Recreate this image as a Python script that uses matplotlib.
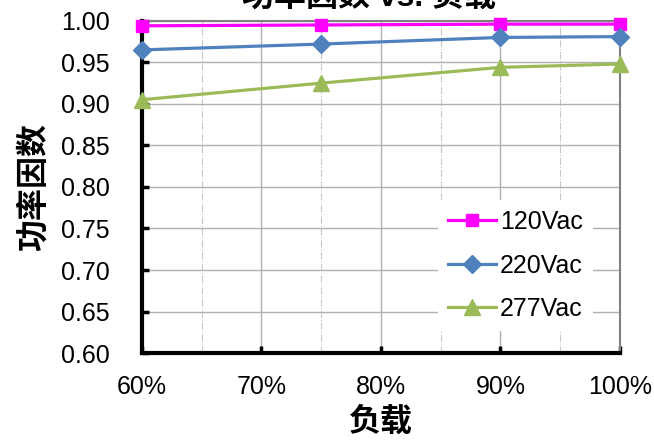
import matplotlib.pyplot as plt
from matplotlib.ticker import MultipleLocator, FuncFormatter

plt.rcParams['font.family'] = ['Liberation Sans', 'Noto Sans CJK SC', 'DejaVu Sans']

load = [60, 75, 90, 100]
pf_120 = [0.994, 0.995, 0.996, 0.996]
pf_220 = [0.965, 0.972, 0.980, 0.981]
pf_277 = [0.905, 0.925, 0.944, 0.948]

fig = plt.figure(figsize=(6.54, 4.43), dpi=100)
ax = fig.add_axes([0.217, 0.203, 0.731, 0.750])

ax.plot(load, pf_120, color='#ff00ff', marker='s', markersize=8, lw=2.3, label='120Vac', clip_on=False, zorder=5)
ax.plot(load, pf_220, color='#4f81bd', marker='D', markersize=9, lw=2.3, label='220Vac', clip_on=False, zorder=5)
ax.plot(load, pf_277, color='#9bbb59', marker='^', markersize=12, lw=2.3, label='277Vac', clip_on=False, zorder=5)

ax.set_xlim(60, 100)
ax.set_ylim(0.60, 1.00)
ax.xaxis.set_major_locator(MultipleLocator(10))
ax.xaxis.set_minor_locator(MultipleLocator(5))
ax.yaxis.set_major_locator(MultipleLocator(0.05))
ax.xaxis.set_major_formatter(FuncFormatter(lambda v, p: '{:.0f}%'.format(v)))
ax.yaxis.set_major_formatter(FuncFormatter(lambda v, p: '{:.2f}'.format(v)))

ax.grid(which='major', color='#b0b0b0', lw=1, ls='-')
ax.grid(which='minor', axis='x', color='#c8c8c8', lw=0.8, ls='-.')
ax.set_axisbelow(True)

for s in ['left', 'bottom']:
    ax.spines[s].set_linewidth(3)
    ax.spines[s].set_color('black')
for s in ['top', 'right']:
    ax.spines[s].set_linewidth(1.5)
    ax.spines[s].set_color('#808080')

ax.tick_params(which='major', direction='in', length=5, width=2.5, labelsize=18)
ax.tick_params(which='minor', length=0)
ax.tick_params(axis='y', pad=23)
ax.tick_params(axis='x', pad=16)

ax.set_xlabel('负载', fontsize=23, fontweight='bold', labelpad=6)
ax.set_ylabel('功率因数', fontsize=23, fontweight='bold', labelpad=8)
# title sits mostly above the top edge, as in the original
fig.text(0.565, 0.987, '功率因数 vs. 负载', fontsize=23, fontweight='bold', ha='center', va='baseline')

leg = ax.legend(loc='lower right', bbox_to_anchor=(0.943, 0.066), frameon=True, fontsize=18,
                handlelength=1.9, labelspacing=0.78, borderpad=0.4, handletextpad=0.16,
                borderaxespad=0)
leg.get_frame().set_edgecolor('none')
leg.get_frame().set_facecolor('white')
leg.get_frame().set_alpha(1)
leg.get_frame().set_boxstyle('square', pad=0)

fig.savefig('out.png', dpi=100)
